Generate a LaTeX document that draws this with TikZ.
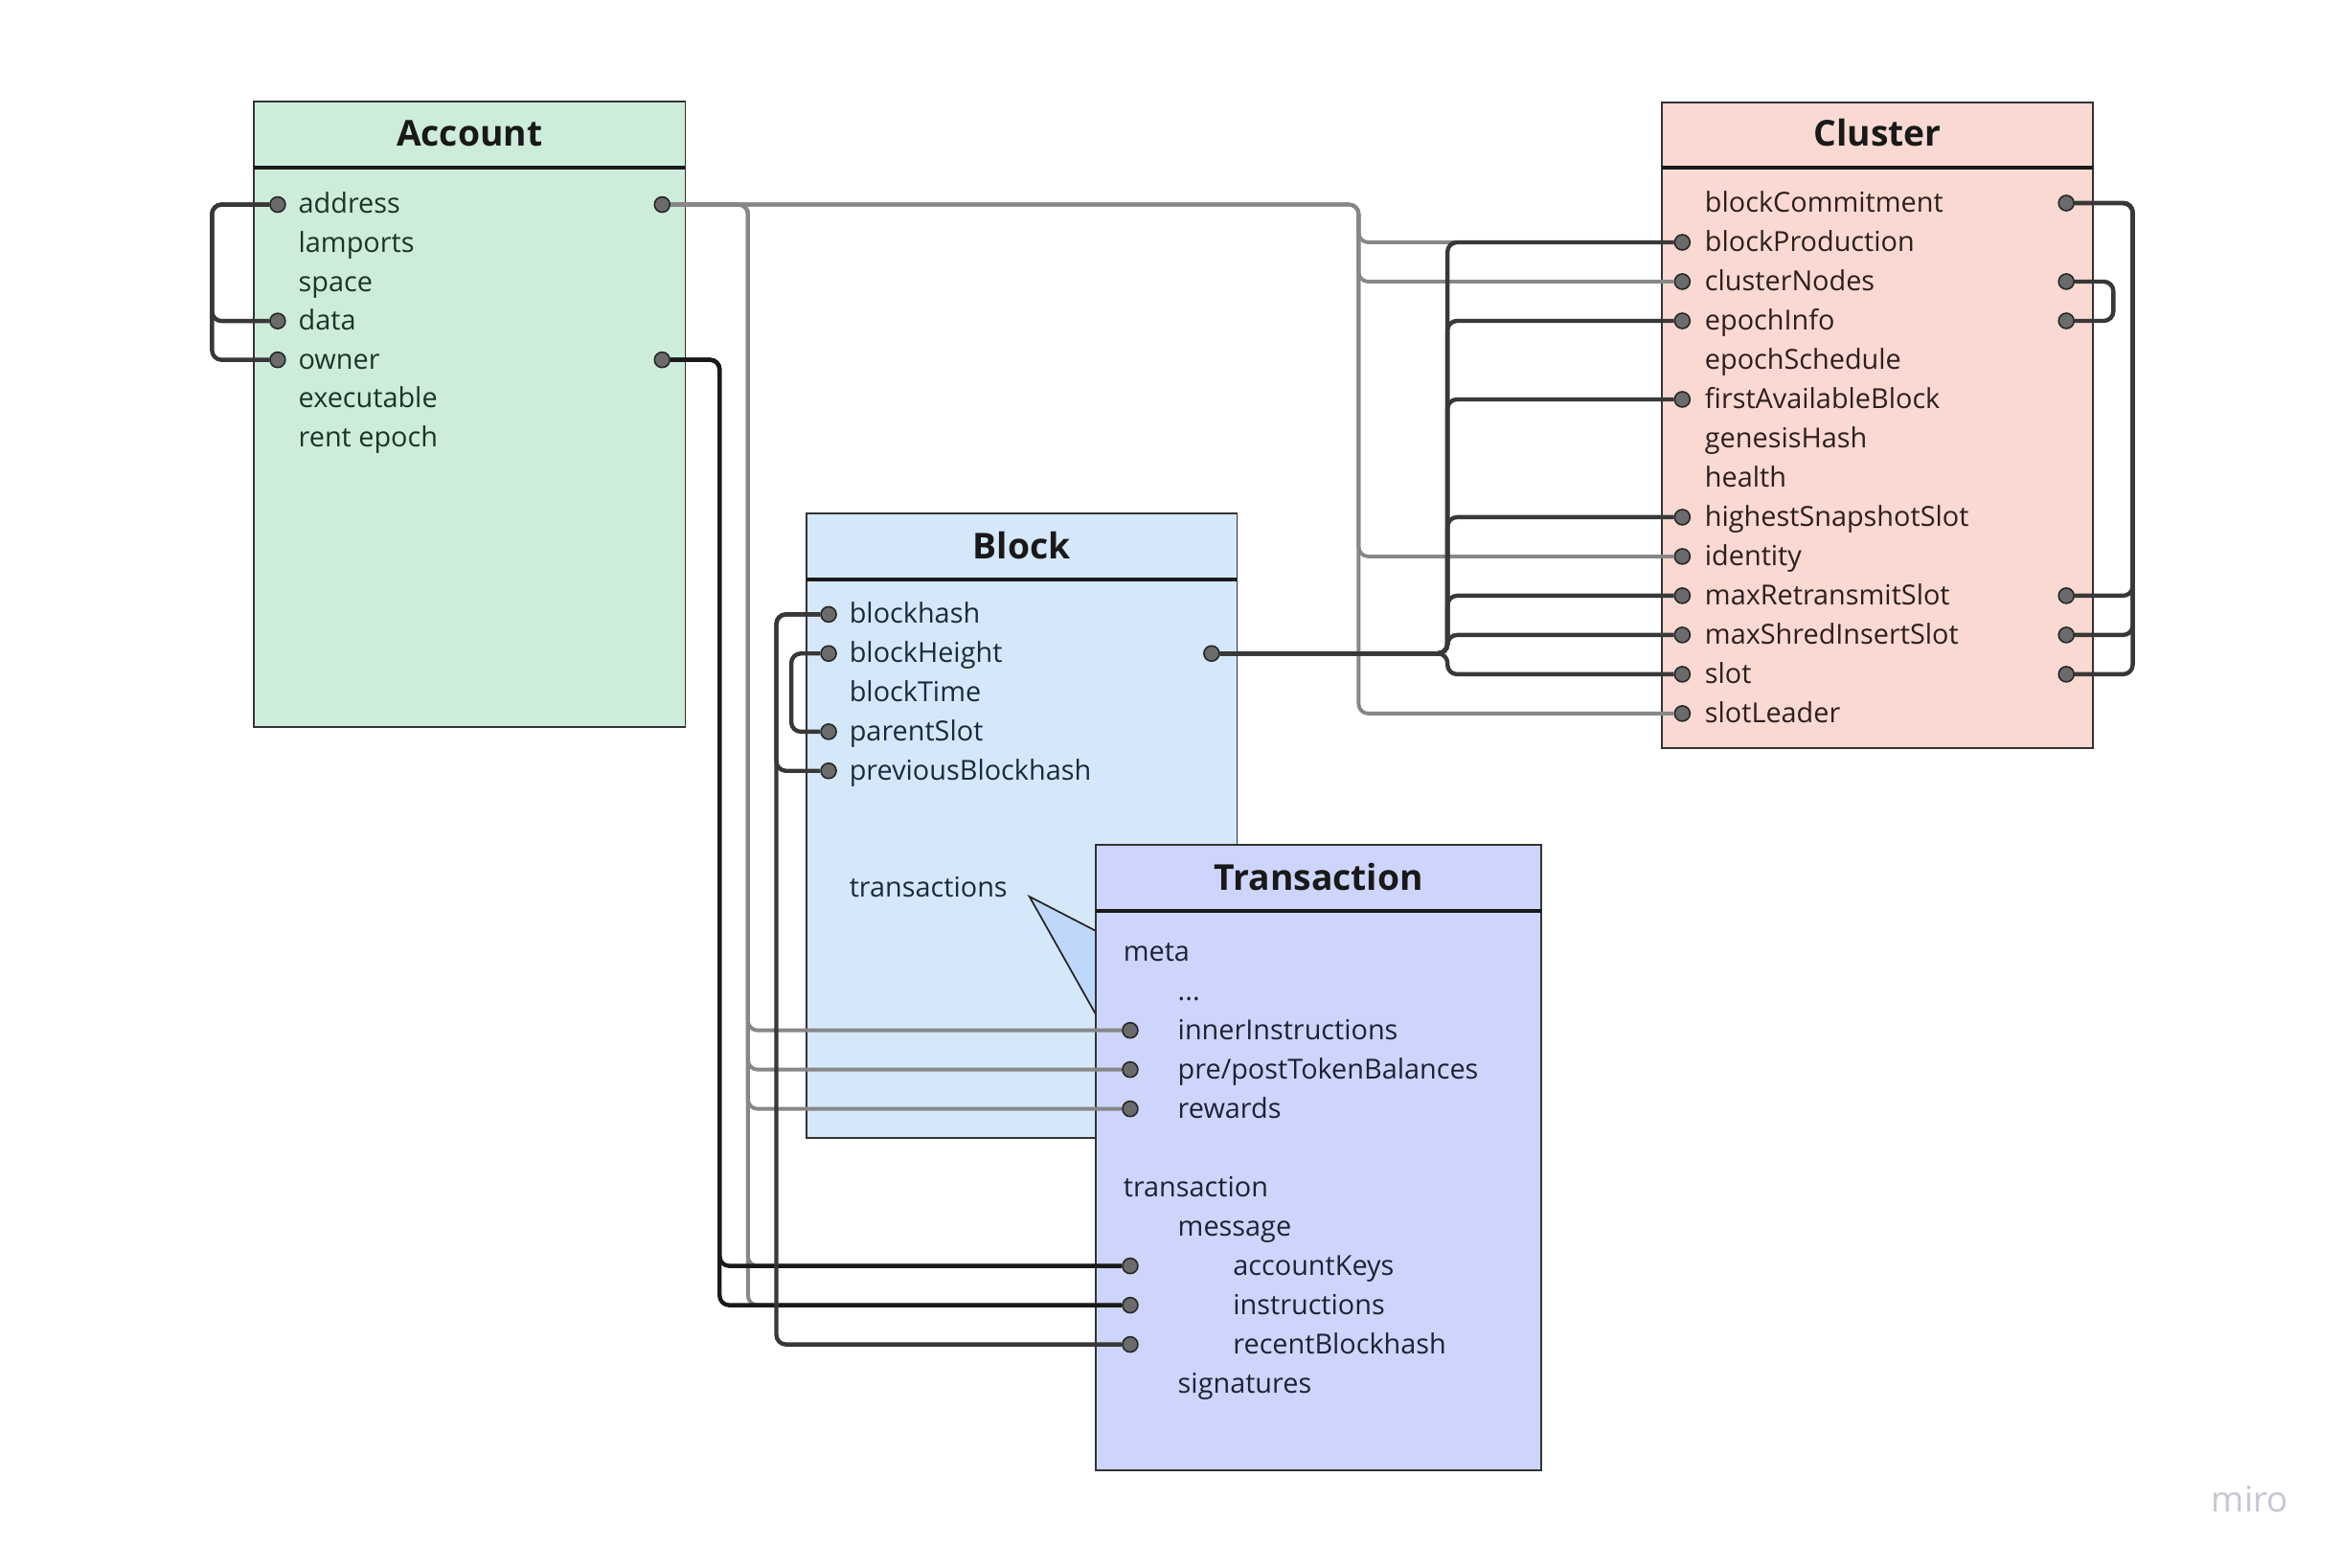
\documentclass[tikz,border=0pt]{standalone}
\usepackage{fontspec}
\setmainfont{Open Sans}
\usetikzlibrary{arrows}

\definecolor{accfill}{HTML}{CDECDA}
\definecolor{blkfill}{HTML}{D5E8FA}
\definecolor{clufill}{HTML}{F9D9D2}
\definecolor{txfill}{HTML}{CDD5FD}
\definecolor{callfill}{HTML}{BFD7FA}
\definecolor{acctext}{HTML}{1E3328}
\definecolor{blktext}{HTML}{1C2A3B}
\definecolor{clutext}{HTML}{2D1F1D}
\definecolor{txtext}{HTML}{1F2133}
\definecolor{mirogrey}{HTML}{C6C7D1}

\tikzset{
  box/.style={draw=black!80, line width=0.5pt, inner sep=0},
  sep/.style={draw=black!90, line width=1.1pt},
  title/.style={font=\fontsize{10.6}{13}\selectfont\bfseries, text=black!90, inner sep=0, text height=1.35ex, text depth=0pt},
  field/.style={anchor=west, inner sep=0, font=\fontsize{8.2}{10}\selectfont, text height=1.4ex, text depth=0.4ex},
  dot/.style={circle, inner sep=0, minimum size=1.6mm, fill=black!58, draw=black!85, line width=0.45pt},
  gline/.style={draw=black!47, line width=1.1pt, rounded corners=1mm},
  dline/.style={draw=black!78, line width=1.25pt, rounded corners=1mm},
  bline/.style={draw=black!90, line width=1.25pt, rounded corners=1mm}
}

\begin{document}
\begin{tikzpicture}[x=0.15587mm,y=-0.15587mm]
\useasboundingbox (0,0) rectangle (1568,1050);

% Account
\node[box,fill=accfill,minimum width=45.05mm,minimum height=65.31mm] (account) at (314.5,277.5) {};
\node[title] (account-title) at (314.5,90) {Account};
\draw[sep] (170,112.5) -- (459,112.5);
\node[field,text=acctext] (acc-address) at (199.5,137) {address};
\node[field,text=acctext] (acc-lamports) at (199.5,163) {lamports};
\node[field,text=acctext] (acc-space) at (199.5,189) {space};
\node[field,text=acctext] (acc-data) at (199.5,215) {data};
\node[field,text=acctext] (acc-owner) at (199.5,241) {owner};
\node[field,text=acctext] (acc-executable) at (199.5,267) {executable};
\node[field,text=acctext] (acc-rent) at (199.5,293) {rent epoch};
\node[dot] (acc-address-l) at (186,137) {};
\node[dot] (acc-data-l) at (186,215) {};
\node[dot] (acc-owner-l) at (186,241) {};
\node[dot] (acc-address-r) at (443.5,137) {};
\node[dot] (acc-owner-r) at (443.5,241) {};

% Block
\node[box,fill=blkfill,minimum width=44.97mm,minimum height=65.15mm] (block) at (684.25,553) {};
\node[title] (block-title) at (684.25,366) {Block};
\draw[sep] (540,388) -- (828.5,388);
\node[field,text=blktext] (blk-blockhash) at (568.5,411.5) {blockhash};
\node[field,text=blktext] (blk-blockHeight) at (568.5,437.7) {blockHeight};
\node[field,text=blktext] (blk-blockTime) at (568.5,463.9) {blockTime};
\node[field,text=blktext] (blk-parentSlot) at (568.5,490.1) {parentSlot};
\node[field,text=blktext] (blk-previousBlockhash) at (568.5,516.3) {previousBlockhash};
\node[field,text=blktext] (blk-transactions) at (568.5,595) {transactions};
\node[dot] (blk-blockhash-l) at (555,411.5) {};
\node[dot] (blk-blockHeight-l) at (555,437.7) {};
\node[dot] (blk-parentSlot-l) at (555,490.1) {};
\node[dot] (blk-previousBlockhash-l) at (555,516.3) {};
\node[dot] (blk-blockHeight-r) at (811.5,437.7) {};

\filldraw[fill=callfill,draw=black!85,line width=0.5pt] (734,623.5) -- (689.5,600.5) -- (734,679.5);

% Transaction
\node[box,fill=txfill,minimum width=46.53mm,minimum height=65.31mm] (transaction) at (883.25,775.5) {};
\node[title] (transaction-title) at (883.25,588) {Transaction};
\draw[sep] (734,610) -- (1032.5,610);
\node[field,text=txtext] (tx-meta) at (752,637.5) {meta};
\node[field,text=txtext] (tx-more) at (788.5,663.8) {...};
\node[field,text=txtext] (tx-innerInstructions) at (788.5,690.1) {innerInstructions};
\node[field,text=txtext] (tx-balances) at (788.5,716.4) {pre/postTokenBalances};
\node[field,text=txtext] (tx-rewards) at (788.5,742.7) {rewards};
\node[field,text=txtext] (tx-transaction) at (752,795.3) {transaction};
\node[field,text=txtext] (tx-message) at (788.5,821.6) {message};
\node[field,text=txtext] (tx-accountKeys) at (825.5,847.9) {accountKeys};
\node[field,text=txtext] (tx-instructions) at (825.5,874.2) {instructions};
\node[field,text=txtext] (tx-recentBlockhash) at (825.5,900.5) {recentBlockhash};
\node[field,text=txtext] (tx-signatures) at (788.5,926.8) {signatures};
\node[dot] (tx-innerInstructions-l) at (757,690.1) {};
\node[dot] (tx-balances-l) at (757,716.4) {};
\node[dot] (tx-rewards-l) at (757,742.7) {};
\node[dot] (tx-accountKeys-l) at (757,847.9) {};
\node[dot] (tx-instructions-l) at (757,874.2) {};
\node[dot] (tx-recentBlockhash-l) at (757,900.5) {};

% Cluster
\node[box,fill=clufill,minimum width=45.05mm,minimum height=67.41mm] (cluster) at (1257.5,284.75) {};
\node[title] (cluster-title) at (1257.5,90) {Cluster};
\draw[sep] (1113,112.5) -- (1402,112.5);
\node[field,text=clutext] (clu-blockCommitment) at (1141.5,136) {blockCommitment};
\node[field,text=clutext] (clu-blockProduction) at (1141.5,162.3) {blockProduction};
\node[field,text=clutext] (clu-clusterNodes) at (1141.5,188.6) {clusterNodes};
\node[field,text=clutext] (clu-epochInfo) at (1141.5,214.9) {epochInfo};
\node[field,text=clutext] (clu-epochSchedule) at (1141.5,241.2) {epochSchedule};
\node[field,text=clutext] (clu-firstAvailableBlock) at (1141.5,267.5) {firstAvailableBlock};
\node[field,text=clutext] (clu-genesisHash) at (1141.5,293.8) {genesisHash};
\node[field,text=clutext] (clu-health) at (1141.5,320.1) {health};
\node[field,text=clutext] (clu-highestSnapshotSlot) at (1141.5,346.4) {highestSnapshotSlot};
\node[field,text=clutext] (clu-identity) at (1141.5,372.7) {identity};
\node[field,text=clutext] (clu-maxRetransmitSlot) at (1141.5,399) {maxRetransmitSlot};
\node[field,text=clutext] (clu-maxShredInsertSlot) at (1141.5,425.3) {maxShredInsertSlot};
\node[field,text=clutext] (clu-slot) at (1141.5,451.6) {slot};
\node[field,text=clutext] (clu-slotLeader) at (1141.5,477.9) {slotLeader};
\node[dot] (clu-blockProduction-l) at (1126.8,162.3) {};
\node[dot] (clu-clusterNodes-l) at (1126.8,188.6) {};
\node[dot] (clu-epochInfo-l) at (1126.8,214.9) {};
\node[dot] (clu-firstAvailableBlock-l) at (1126.8,267.5) {};
\node[dot] (clu-highestSnapshotSlot-l) at (1126.8,346.4) {};
\node[dot] (clu-identity-l) at (1126.8,372.7) {};
\node[dot] (clu-maxRetransmitSlot-l) at (1126.8,399) {};
\node[dot] (clu-maxShredInsertSlot-l) at (1126.8,425.3) {};
\node[dot] (clu-slot-l) at (1126.8,451.6) {};
\node[dot] (clu-slotLeader-l) at (1126.8,477.9) {};
\node[dot] (clu-blockCommitment-r) at (1384,136) {};
\node[dot] (clu-clusterNodes-r) at (1384,188.6) {};
\node[dot] (clu-epochInfo-r) at (1384,214.9) {};
\node[dot] (clu-maxRetransmitSlot-r) at (1384,399) {};
\node[dot] (clu-maxShredInsertSlot-r) at (1384,425.3) {};
\node[dot] (clu-slot-r) at (1384,451.6) {};

% buses
\coordinate (accloop) at (142,137);
\coordinate (ownbus) at (482,241);
\coordinate (addrbus) at (501,137);
\coordinate (idbus) at (910,137);
\coordinate (hashbus) at (520,411.5);
\coordinate (heightbus) at (530,437.7);
\coordinate (slotbus) at (969.5,437.7);
\coordinate (commitbus) at (1428.5,136);
\coordinate (nodesbus) at (1415.5,188.6);

% address -> everywhere (grey)
\draw[gline] (acc-address-r) -| (idbus |- clu-blockProduction-l) -- (clu-blockProduction-l);
\draw[gline] (acc-address-r) -| (idbus |- clu-clusterNodes-l) -- (clu-clusterNodes-l);
\draw[gline] (acc-address-r) -| (idbus |- clu-identity-l) -- (clu-identity-l);
\draw[gline] (acc-address-r) -| (idbus |- clu-slotLeader-l) -- (clu-slotLeader-l);
\draw[gline] (acc-address-r) -| (addrbus |- tx-innerInstructions-l) -- (tx-innerInstructions-l);
\draw[gline] (acc-address-r) -| (addrbus |- tx-balances-l) -- (tx-balances-l);
\draw[gline] (acc-address-r) -| (addrbus |- tx-rewards-l) -- (tx-rewards-l);
\draw[gline] (acc-address-r) -| (addrbus |- tx-accountKeys-l) -- (tx-accountKeys-l);
\draw[gline] (acc-address-r) -| (addrbus |- tx-instructions-l) -- (tx-instructions-l);

% dark ones
\draw[dline] (acc-address-l) -| (accloop |- acc-data-l) -- (acc-data-l);
\draw[dline] (acc-address-l) -| (accloop |- acc-owner-l) -- (acc-owner-l);
\draw[bline] (acc-owner-r) -| (ownbus |- tx-accountKeys-l) -- (tx-accountKeys-l);
\draw[bline] (acc-owner-r) -| (ownbus |- tx-instructions-l) -- (tx-instructions-l);
\draw[dline] (blk-blockhash-l) -| (hashbus |- blk-previousBlockhash-l) -- (blk-previousBlockhash-l);
\draw[dline] (blk-blockhash-l) -| (hashbus |- tx-recentBlockhash-l) -- (tx-recentBlockhash-l);
\draw[dline] (blk-blockHeight-l) -| (heightbus |- blk-parentSlot-l) -- (blk-parentSlot-l);

\draw[dline] (blk-blockHeight-r) -| (slotbus |- clu-blockProduction-l) -- (clu-blockProduction-l);
\draw[dline] (blk-blockHeight-r) -| (slotbus |- clu-epochInfo-l) -- (clu-epochInfo-l);
\draw[dline] (blk-blockHeight-r) -| (slotbus |- clu-firstAvailableBlock-l) -- (clu-firstAvailableBlock-l);
\draw[dline] (blk-blockHeight-r) -| (slotbus |- clu-highestSnapshotSlot-l) -- (clu-highestSnapshotSlot-l);
\draw[dline] (blk-blockHeight-r) -| (slotbus |- clu-maxRetransmitSlot-l) -- (clu-maxRetransmitSlot-l);
\draw[dline] (blk-blockHeight-r) -| (slotbus |- clu-maxShredInsertSlot-l) -- (clu-maxShredInsertSlot-l);
\draw[dline] (blk-blockHeight-r) -| (slotbus |- clu-slot-l) -- (clu-slot-l);

\draw[dline] (clu-blockCommitment-r) -| (commitbus |- clu-maxRetransmitSlot-r) -- (clu-maxRetransmitSlot-r);
\draw[dline] (clu-blockCommitment-r) -| (commitbus |- clu-maxShredInsertSlot-r) -- (clu-maxShredInsertSlot-r);
\draw[dline] (clu-blockCommitment-r) -| (commitbus |- clu-slot-r) -- (clu-slot-r);
\draw[dline] (clu-clusterNodes-r) -| (nodesbus |- clu-epochInfo-r) -- (clu-epochInfo-r);

\node[text=mirogrey,font=\fontsize{10.5}{12}\selectfont] (miro) at (1507,1004) {miro};

\end{tikzpicture}
\end{document}
